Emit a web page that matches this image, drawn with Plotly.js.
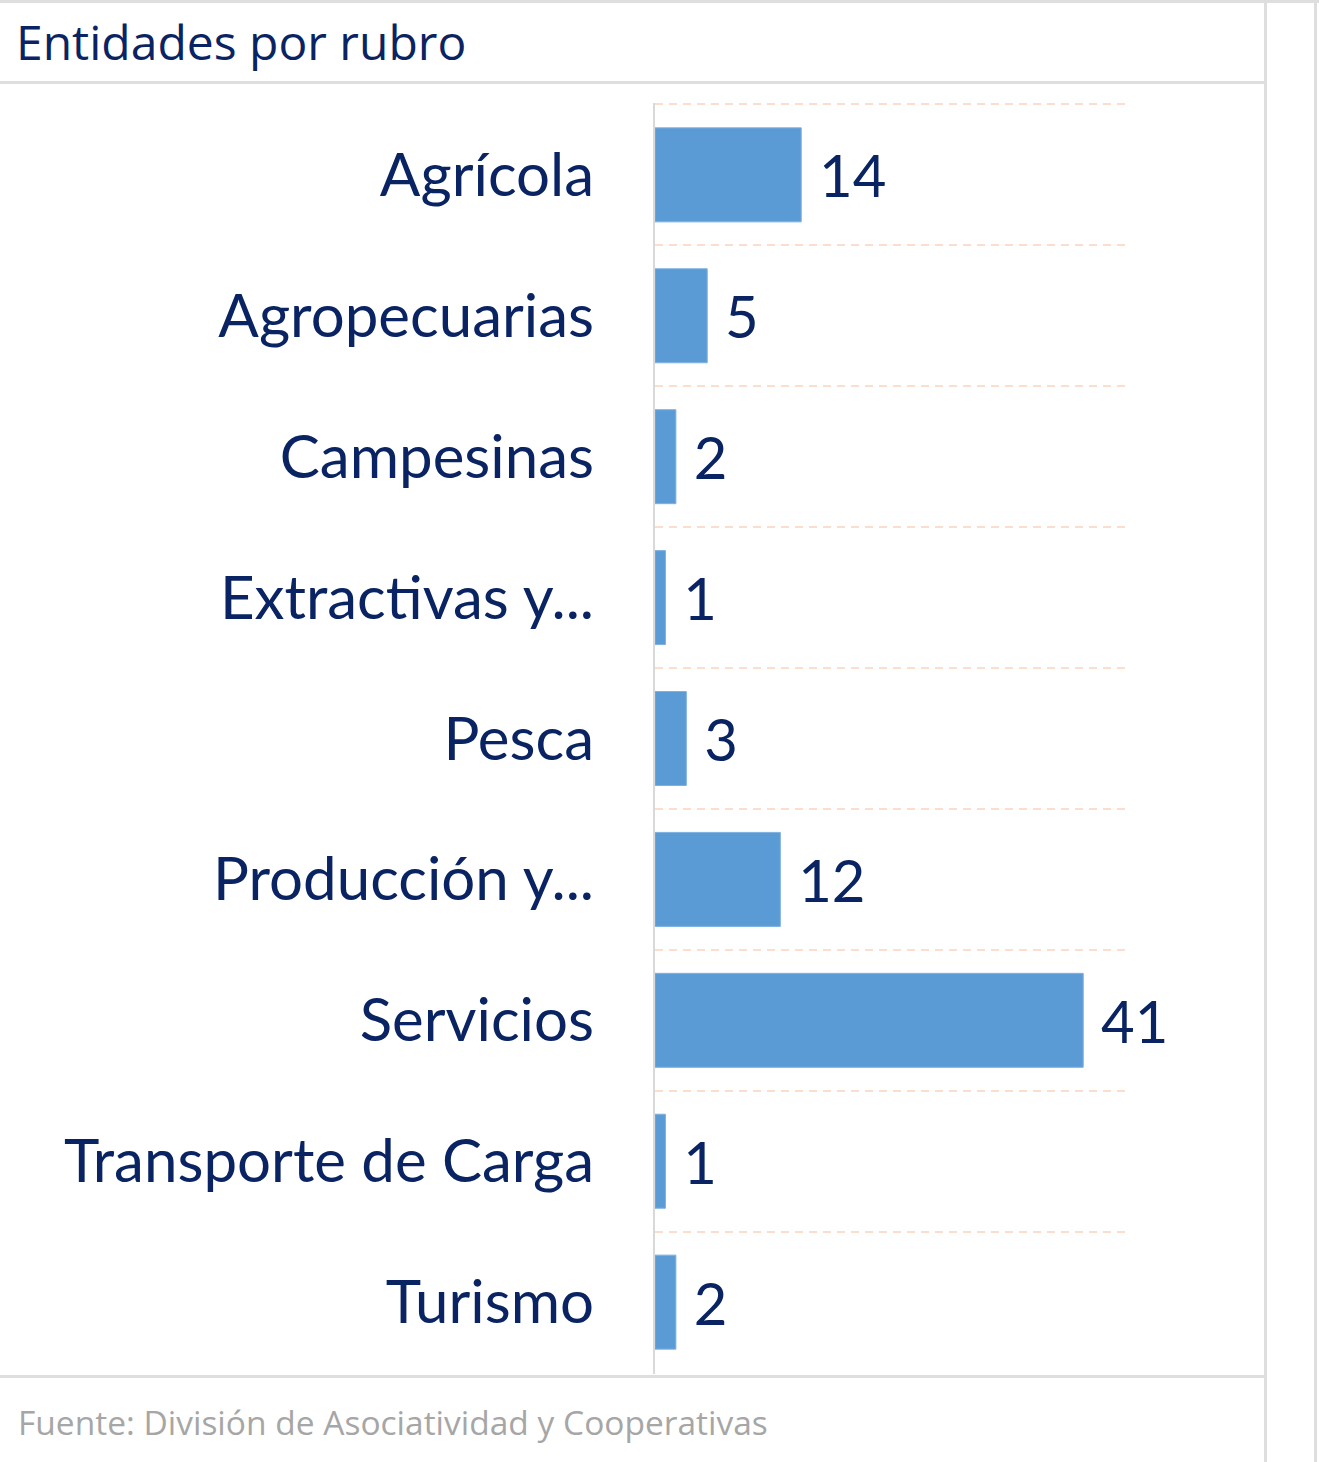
<!DOCTYPE html>
<html>
<head>
<meta charset="utf-8">
<script src="https://cdn.plot.ly/plotly-3.0.1.min.js"></script>
<style>
  html, body { margin: 0; padding: 0; background: #ffffff; }
  #wrap { position: relative; width: 1319px; height: 1462px; overflow: hidden; }
  #chart { position: absolute; left: 0; top: 0; width: 1319px; height: 1462px; }
  .ln { position: absolute; background: #dedede; pointer-events: none; }
</style>
</head>
<body>
<div id="wrap">
  <div id="chart"></div>
  <div class="ln" style="left:0;top:0;width:1319px;height:3px;"></div>
  <div class="ln" style="left:0;top:81px;width:1266px;height:3px;"></div>
  <div class="ln" style="left:0;top:1375px;width:1266px;height:3px;"></div>
  <div class="ln" style="left:1264px;top:0;width:3px;height:1462px;"></div>
  <div class="ln" style="left:1314px;top:0;width:3px;height:1462px;"></div>
</div>
<script>
const categories = ["Agrícola", "Agropecuarias", "Campesinas", "Extractivas y...", "Pesca", "Producción y...", "Servicios", "Transporte de Carga", "Turismo"];
const values = [14, 5, 2, 1, 3, 12, 41, 1, 2];
const chartTitle = "Entidades por rubro";
const sourceNote = "Fuente: División de Asociatividad y Cooperativas";

const navy = "#0a2463";

const trace = {
  type: "bar",
  orientation: "h",
  y: categories,
  x: values,
  marker: { color: "#5b9bd5", line: { color: "#7fb0e0", width: 1 } },
  texttemplate: "\u00a0%{x}",
  textposition: "outside",
  cliponaxis: false,
  textfont: { family: "Lato, 'Open Sans', sans-serif", size: 58, color: navy },
  hoverinfo: "skip"
};

const layout = {
  width: 1319,
  height: 1462,
  margin: { l: 655, r: 194, t: 103, b: 88 },
  paper_bgcolor: "rgba(0,0,0,0)",
  plot_bgcolor: "rgba(0,0,0,0)",
  showlegend: false,
  bargap: 0.333,
  title: {
    text: chartTitle,
    font: { family: "'Open Sans', sans-serif", size: 48, color: navy },
    xref: "container", x: 16 / 1319, xanchor: "left",
    yref: "container", y: 1 - 43 / 1462, yanchor: "middle"
  },
  xaxis: {
    range: [0, 45],
    showticklabels: false,
    showgrid: false,
    zeroline: false,
    showline: false,
    ticks: "",
    fixedrange: true
  },
  yaxis: {
    type: "category",
    range: [8.51, -0.51],
    tickson: "boundaries",
    showgrid: true,
    gridcolor: "#fbdfcc",
    gridwidth: 2,
    griddash: "8px,6px",
    showline: true,
    linecolor: "#d9d9d9",
    linewidth: 2,
    ticks: "",
    ticklabelstandoff: 47,
    tickfont: { family: "Lato, 'Open Sans', sans-serif", size: 60, color: navy },
    fixedrange: true
  },
  annotations: [{
    text: sourceNote,
    xref: "paper", yref: "paper",
    x: (16 - 655) / 470, xanchor: "left",
    y: -(1422 - 1374) / 1270, yanchor: "middle",
    showarrow: false,
    font: { family: "'Open Sans', sans-serif", size: 33.5, color: "#a6a6a6" }
  }]
};

Plotly.newPlot("chart", [trace], layout, { displayModeBar: false, staticPlot: true });
</script>
</body>
</html>
